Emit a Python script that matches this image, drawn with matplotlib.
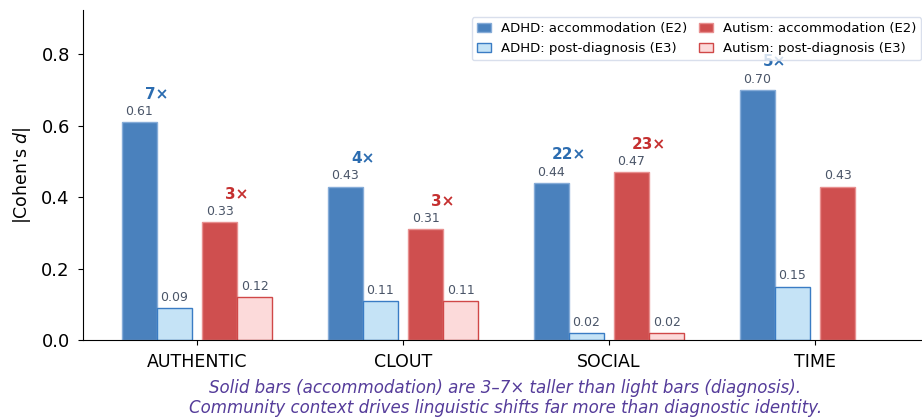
import numpy as np
import matplotlib
matplotlib.use("Agg")
import matplotlib.pyplot as plt

categories = ["AUTHENTIC", "CLOUT", "SOCIAL", "TIME"]
adhd_e2 = [0.61, 0.43, 0.44, 0.70]
adhd_e3 = [0.09, 0.11, 0.02, 0.15]
autism_e2 = [0.33, 0.31, 0.47, 0.43]
autism_e3 = [0.12, 0.11, 0.02, np.nan]
adhd_ratio = ["7×", "4×", "22×", "5×"]
autism_ratio = ["3×", "3×", "23×", None]

fig = plt.figure(figsize=(9.22, 4.2), dpi=100)
ax = fig.add_axes([0.09, 0.19, 0.91, 0.785])

x = np.arange(len(categories))
w = 0.17
series = [
    (adhd_e2, -0.28, "#4a81bd", "#86acd8", "ADHD: accommodation (E2)"),
    (adhd_e3, -0.11, "#c5e3f6", "#3a7cc4", "ADHD: post-diagnosis (E3)"),
    (autism_e2, 0.11, "#cf4f4f", "#e89090", "Autism: accommodation (E2)"),
    (autism_e3, 0.28, "#fcdada", "#d04848", "Autism: post-diagnosis (E3)"),
]
for vals, off, fc, ec, lab in series:
    ax.bar(x + off, vals, w, color=fc, edgecolor=ec, linewidth=1.0, label=lab, zorder=2)
    for xi, v in zip(x + off, vals):
        if not np.isnan(v):
            ax.text(xi, v + 0.012, f"{v:.2f}", ha="center", va="bottom",
                    fontsize=9, color="#4a5568")

for i in range(len(categories)):
    ax.text(x[i] - 0.195, adhd_e2[i] + 0.058, adhd_ratio[i], ha="center", va="bottom",
            fontsize=11, fontweight="bold", color="#2b6cb0", zorder=1)
    if autism_ratio[i]:
        ax.text(x[i] + 0.195, autism_e2[i] + 0.058, autism_ratio[i], ha="center", va="bottom",
                fontsize=11, fontweight="bold", color="#c53030", zorder=1)

ax.set_xticks(x)
ax.set_xticklabels(categories, fontsize=12.5)
ax.tick_params(axis="x", pad=6)
ax.set_xlim(-0.553, 3.52)
ax.set_ylim(0, 0.923)
ax.set_yticks([0.0, 0.2, 0.4, 0.6, 0.8])
ax.tick_params(axis="y", labelsize=13, pad=6)
ax.set_ylabel("|Cohen's $d$|", fontsize=12.5, labelpad=6)
ax.spines["top"].set_visible(False)
ax.spines["right"].set_visible(False)

leg = ax.legend(loc="upper right", bbox_to_anchor=(0.999, 0.980), borderaxespad=0,
                ncol=2, fontsize=9.5, frameon=True, columnspacing=0.9,
                handlelength=1.1, handletextpad=0.7, labelspacing=0.5)
leg.get_frame().set_edgecolor("#d0d8e8")
leg.set_zorder(5)

fig.text(0.548, 0.052, "Solid bars (accommodation) are 3–7× taller than light bars (diagnosis).\n"
         "Community context drives linguistic shifts far more than diagnostic identity.",
         ha="center", va="center", fontsize=12, style="italic", color="#553c9a",
         linespacing=1.1)

fig.savefig("out.png", dpi=100)
